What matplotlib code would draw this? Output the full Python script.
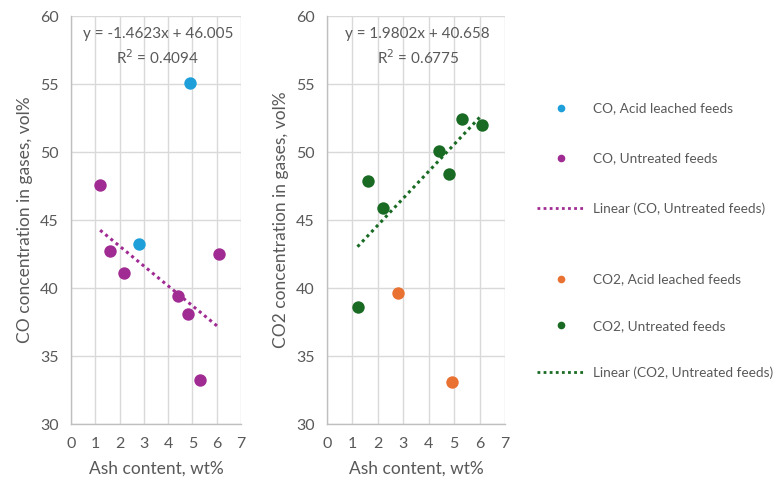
import matplotlib
matplotlib.use("Agg")
import matplotlib.pyplot as plt
import numpy as np
from matplotlib.lines import Line2D

plt.rcParams['font.family'] = ['Lato', 'DejaVu Sans']

# Ash content (wt%) of the feeds
ash_untreated = [1.2, 1.6, 2.2, 4.4, 4.8, 5.3, 6.1]
ash_leached = [2.8, 4.9]

# CO concentration, vol%
co_untreated = [47.6, 42.7, 41.1, 39.4, 38.1, 33.2, 42.5]
co_leached = [43.2, 55.1]

# CO2 concentration, vol%
co2_untreated = [38.6, 47.9, 45.9, 50.1, 48.4, 52.4, 52.0]
co2_leached = [39.6, 33.1]

# Linear fits of the untreated feeds: slope, intercept, R^2
co_fit = (-1.4623, 46.005, 0.4094)
co2_fit = (1.9802, 40.658, 0.6775)

x_ticks = [0, 1, 2, 3, 4, 5, 6, 7]
y_ticks = [30, 35, 40, 45, 50, 55, 60]

C_BLUE = '#1E9FD9'
C_PURPLE = '#A02B93'
C_ORANGE = '#E97132'
C_GREEN = '#196B24'
C_TEXT = '#595959'
C_GRID = '#D9D9D9'

fig = plt.figure(figsize=(7.78, 4.84), dpi=100)
W, H = 778, 484


def axes_px(x0, x1, y0, y1):
    return fig.add_axes([x0 / W, 1 - y1 / H, (x1 - x0) / W, (y1 - y0) / H])


def style(ax, ylabel):
    ax.set_xlim(0, 7)
    ax.set_ylim(30, 60)
    ax.set_xticks(x_ticks)
    ax.set_yticks(y_ticks)
    ax.grid(True, color=C_GRID, linewidth=1.0)
    ax.set_axisbelow(True)
    for s in ['top', 'right']:
        ax.spines[s].set_visible(False)
    for s in ['left', 'bottom']:
        ax.spines[s].set_color('#BFBFBF')
        ax.spines[s].set_linewidth(1.0)
    ax.tick_params(length=0, labelsize=11.5, colors=C_TEXT, pad=9)
    ax.set_xlabel('Ash content, wt%', fontsize=12.5, color=C_TEXT, labelpad=7)
    ax.set_ylabel(ylabel, fontsize=12.5, color=C_TEXT, labelpad=5)


def fit_line(ax, fit, xs, color):
    m, b, r2 = fit
    xx = np.array([min(xs), max(xs)])
    ax.plot(xx, m * xx + b, linestyle=(0, (1, 1.2)), color=color, linewidth=2.2,
            zorder=2)
    sign = '+' if b >= 0 else '-'
    ax.text(0.51, 0.955, f'y = {m:.4f}x {sign} {abs(b):.3f}', transform=ax.transAxes,
            ha='center', va='center', fontsize=11.0, color=C_TEXT)
    ax.text(0.51, 0.898, f'R$^2$ = {r2:.4f}', transform=ax.transAxes,
            ha='center', va='center', fontsize=11.0, color=C_TEXT)


ax1 = axes_px(71, 241, 16, 424)
style(ax1, 'CO concentration in gases, vol%')
ax1.scatter(ash_leached, co_leached, s=80, color=C_BLUE, zorder=3, linewidths=0)
ax1.scatter(ash_untreated, co_untreated, s=80, color=C_PURPLE, zorder=3, linewidths=0)
fit_line(ax1, co_fit, ash_untreated, C_PURPLE)

ax2 = axes_px(327, 505, 16, 424)
style(ax2, 'CO2 concentration in gases, vol%')
ax2.scatter(ash_leached, co2_leached, s=80, color=C_ORANGE, zorder=3, linewidths=0)
ax2.scatter(ash_untreated, co2_untreated, s=80, color=C_GREEN, zorder=3, linewidths=0)
fit_line(ax2, co2_fit, ash_untreated, C_GREEN)


def legend_group(handles, labels, top_px, spacing):
    return fig.legend(handles, labels, loc='upper left',
                      bbox_to_anchor=(532 / W, 1 - top_px / H), frameon=False,
                      fontsize=9.8, labelspacing=spacing, handlelength=3.4,
                      handletextpad=0.7, labelcolor=C_TEXT, borderaxespad=0)


def dot(c):
    return Line2D([], [], marker='o', linestyle='none', color=c, markersize=5.5,
                  markeredgewidth=0)


def dotted(c):
    return Line2D([], [], linestyle=(0, (1, 1.2)), color=c, linewidth=2.0)


legend_group([dot(C_BLUE), dot(C_PURPLE), dotted(C_PURPLE)],
             ['CO, Acid leached feeds', 'CO, Untreated feeds',
              'Linear (CO, Untreated feeds)'], 97, 2.78)
legend_group([dot(C_ORANGE), dot(C_GREEN), dotted(C_GREEN)],
             ['CO2, Acid leached feeds', 'CO2, Untreated feeds',
              'Linear (CO2, Untreated feeds)'], 268, 2.53)

fig.savefig('out.png', dpi=100, facecolor='white')
